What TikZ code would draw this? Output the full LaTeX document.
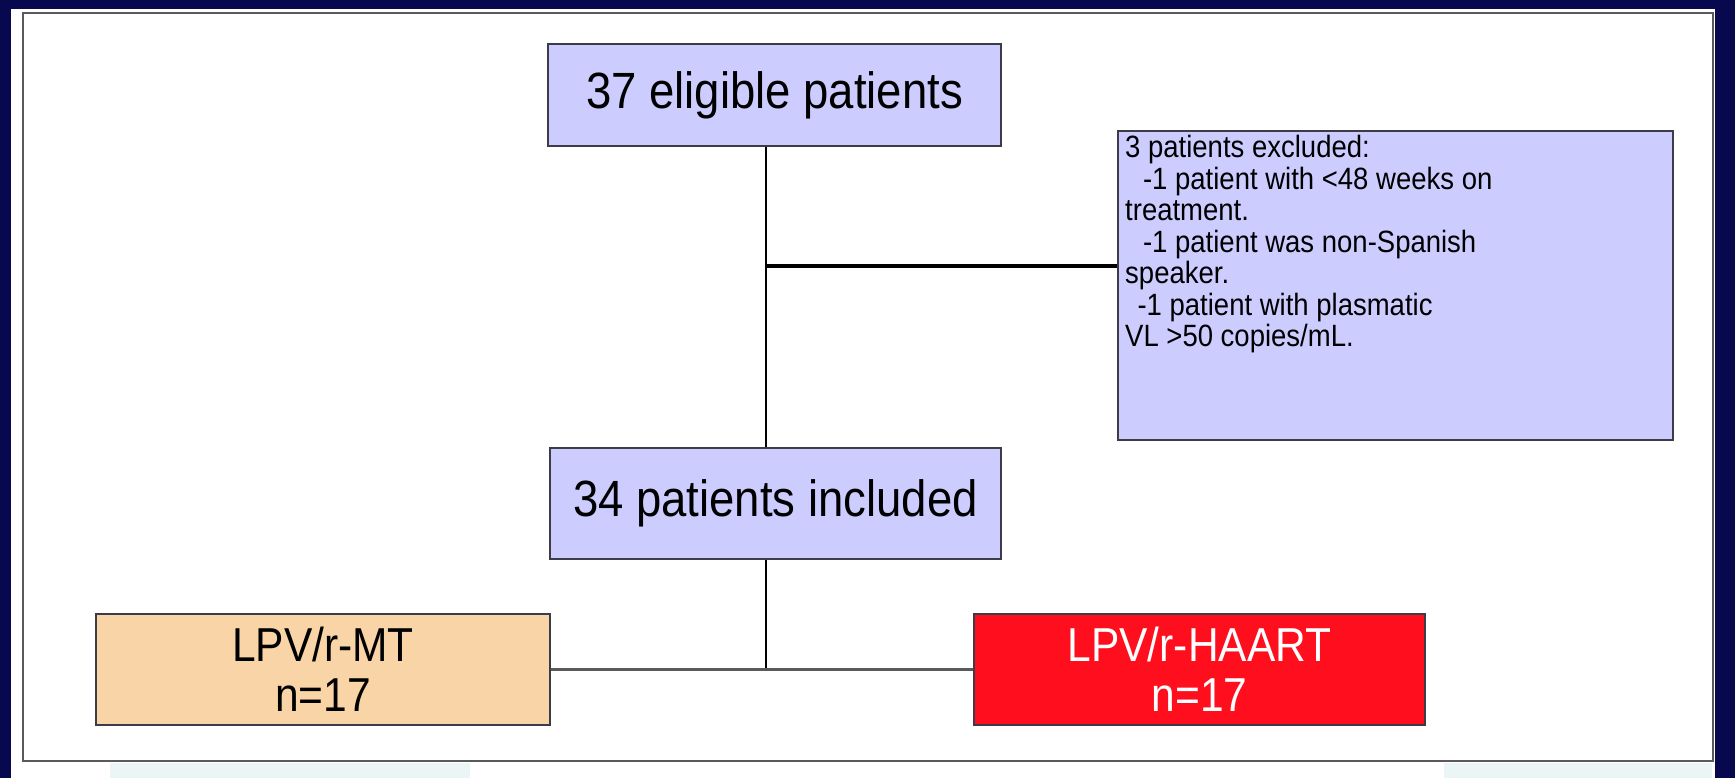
\documentclass[tikz,border=0pt]{standalone}
\usepackage{graphicx}
\usepackage{fontspec}
\setmainfont{Liberation Sans}
\definecolor{navy}{RGB}{8,8,78}
\definecolor{lav}{RGB}{204,204,255}
\definecolor{boxline}{RGB}{60,60,72}
\definecolor{peach}{RGB}{248,212,166}
\definecolor{redbox}{RGB}{255,14,30}
\definecolor{framegray}{RGB}{90,90,90}
\definecolor{faintcyan}{RGB}{235,245,245}
\newcommand{\tallt}[1]{\scalebox{1}[1.12]{#1}}
\begin{document}
\begin{tikzpicture}[x=1pt,y=-1pt,
  flowbox/.style={draw=boxline,line width=1.6pt,inner sep=0pt,align=center},
  bigtext/.style={font=\fontsize{45.5}{50}\selectfont},
  armtext/.style={font=\fontsize{42.5}{50}\selectfont},
  conn/.style={draw=black,line width=1.6pt},
  thickconn/.style={draw=black,line width=4.5pt},
  armconn/.style={draw=framegray,line width=2.2pt}]
\useasboundingbox (0,0) rectangle (1735,778);
% background
\fill[navy] (0,0) rectangle (1735,778);
\fill[white] (11,9) rectangle (1715,778);
\fill[faintcyan] (110,763) rectangle (470,778);
\fill[faintcyan] (1444,763) rectangle (1712,778);
\draw[framegray,line width=2.4pt] (23,13) rectangle (1713,761);
% nodes
\node[flowbox,fill=lav,bigtext,minimum width=453pt,minimum height=102pt] (top) at (774.5,95) {\tallt{37 eligible patients}};
\node[flowbox,fill=lav,minimum width=555pt,minimum height=309pt] (excl) at (1395.5,285.5) {};
\node[anchor=north west,inner sep=0pt,align=left,font=\fontsize{27.5}{31.5}\selectfont] (excltext) at (1125,135)
  {\tallt{3 patients excluded:}\\
   \hspace*{0.65em}\tallt{-1 patient with <48 weeks on}\\
   \tallt{treatment.}\\
   \hspace*{0.65em}\tallt{-1 patient was non-Spanish}\\
   \tallt{speaker.}\\
   \hspace*{0.45em}\tallt{-1 patient with plasmatic}\\
   \tallt{VL >50 copies/mL.}};
\node[flowbox,fill=lav,bigtext,minimum width=451pt,minimum height=111pt] (mid) at (775.5,503.5) {\tallt{34 patients included}};
\node[flowbox,fill=peach,armtext,minimum width=454pt,minimum height=111pt] (mt) at (323,669.5) {\tallt{LPV/r-MT}\\\tallt{n=17}};
\node[flowbox,fill=redbox,armtext,text=white,minimum width=451pt,minimum height=111pt] (haart) at (1199.5,669.5) {\tallt{LPV/r-HAART}\\\tallt{n=17}};
% connectors
\coordinate (j) at (766,266);
\coordinate (b) at (766,669.5);
\draw[conn] (j |- top.south) -- (j |- mid.north);
\draw[thickconn] (j) -- (j -| excl.west);
\draw[conn] (b |- mid.south) -- (b);
\draw[armconn] (mt.east) -- (haart.west);
\end{tikzpicture}
\end{document}
